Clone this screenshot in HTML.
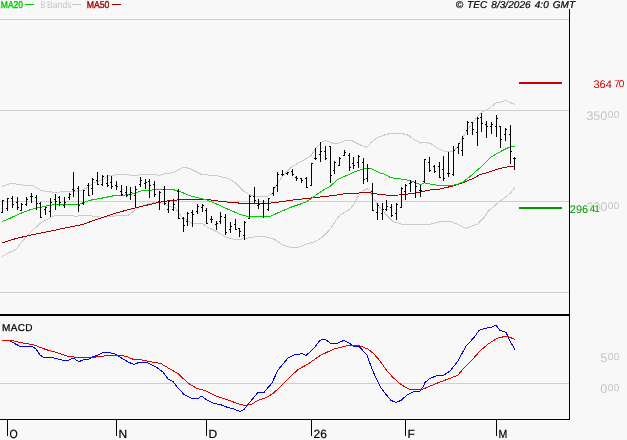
<!DOCTYPE html>
<html><head><meta charset="utf-8"><title>Chart</title>
<style>html,body{margin:0;padding:0;background:#f8f8f8;overflow:hidden}svg{display:block}</style>
</head><body>
<svg width="627" height="440" viewBox="0 0 627 440">
<rect x="0" y="0" width="627" height="440" fill="#f8f8f8"/>
<g shape-rendering="crispEdges">
<rect x="0" y="19" width="569" height="1" fill="#cfcfcf"/>
<rect x="0" y="110" width="569" height="1" fill="#cfcfcf"/>
<rect x="0" y="201" width="569" height="1" fill="#cfcfcf"/>
<rect x="0" y="292" width="569" height="1" fill="#cfcfcf"/>
<rect x="0" y="383" width="569" height="1" fill="#cfcfcf"/>
</g>
<polyline fill="none" shape-rendering="crispEdges" stroke="#cbcbcb" stroke-width="1" points="2.0,186.5 11.6,183.2 21.6,184.9 33.2,185.7 41.5,190.7 54.7,192.3 69.7,191.5 78.0,191.5 86.2,188.2 92.9,183.2 104.0,179.0 107.8,175.7 117.8,174.7 135.3,175.2 150.0,174.5 160.0,175.2 166.6,173.2 173.2,172.9 178.2,169.9 184.0,167.1 189.8,168.6 201.4,174.5 216.3,175.7 227.9,178.2 234.6,182.3 242.9,190.6 249.5,194.8 257.8,196.6 267.4,196.6 272.2,193.5 276.8,184.4 283.6,174.8 291.8,166.6 304.1,159.8 310.9,155.7 316.4,147.5 321.8,142.1 325.9,140.7 334.0,143.5 338.2,143.5 345.0,140.7 351.8,140.7 360.0,144.8 366.8,147.5 371.5,142.1 376.9,138.0 383.7,135.2 390.6,133.5 401.5,133.5 408.3,135.2 413.7,139.3 420.6,143.0 425.5,142.3 430.9,143.6 437.7,148.4 444.6,151.1 452.7,151.6 456.8,147.7 460.9,140.9 466.4,131.4 469.6,126.9 476.9,117.5 481.3,112.4 489.7,108.3 496.3,102.5 501.3,102.0 505.5,100.3 510.4,102.5 514.9,104.6"/>
<polyline fill="none" shape-rendering="crispEdges" stroke="#cbcbcb" stroke-width="1" points="2.0,256.7 8.3,252.7 12.4,251.4 16.6,248.4 24.9,238.4 33.2,229.8 41.5,222.4 49.8,218.2 55.6,215.2 66.3,215.2 76.3,216.2 86.2,215.2 96.2,216.6 104.0,217.4 112.0,216.5 120.0,215.3 128.2,215.3 134.3,210.7 140.4,206.7 150.6,203.1 160.8,202.6 164.9,204.6 171.0,206.7 175.1,207.7 179.2,213.8 183.2,218.0 189.8,222.1 192.3,223.5 202.5,223.5 206.6,226.7 216.8,231.6 225.0,236.7 236.0,240.0 244.2,238.6 256.5,236.5 263.3,236.5 272.8,238.6 276.0,240.2 282.0,244.7 289.5,247.3 298.5,247.3 306.0,244.3 315.0,241.7 322.5,237.2 328.5,231.2 333.0,225.2 336.0,220.0 340.5,214.7 349.5,209.5 354.0,204.2 357.0,197.5 362.7,191.2 366.8,188.5 369.6,190.5 372.8,197.5 379.6,207.0 386.5,215.2 393.3,221.8 403.2,224.5 418.1,224.5 431.4,224.0 441.4,221.2 449.7,221.2 457.9,224.5 466.2,228.5 472.9,225.7 477.8,224.0 484.0,217.4 488.0,211.4 493.0,207.2 499.7,201.4 506.3,196.4 511.3,192.3 514.9,187.3"/>
<polyline fill="none" shape-rendering="crispEdges" stroke="#990000" stroke-width="1" points="2.0,242.8 16.6,238.4 33.2,234.5 49.8,231.2 66.3,227.8 82.9,224.5 92.9,220.7 100.0,218.4 116.6,212.8 133.2,208.5 150.0,204.4 163.3,201.4 183.2,199.4 206.4,199.4 223.0,201.7 239.6,203.1 254.0,203.1 270.1,203.1 281.0,201.7 291.0,200.2 309.0,198.2 336.0,195.2 343.6,193.9 357.3,193.1 366.8,192.5 371.5,193.1 379.6,194.5 390.6,195.4 398.7,195.0 406.9,194.1 413.8,193.4 423.3,191.3 430.0,190.0 437.7,189.6 447.3,187.3 455.5,185.3 463.7,182.5 474.6,177.7 480.0,174.6 484.0,173.6 490.0,171.7 497.3,169.1 504.5,167.3 514.7,166.2"/>
<polyline fill="none" shape-rendering="crispEdges" stroke="#00cc00" stroke-width="1" points="2.0,221.5 10.0,218.2 19.9,213.6 29.9,209.9 39.8,207.4 49.8,205.3 58.0,204.1 69.7,204.1 79.6,204.1 86.2,201.6 92.9,199.6 100.0,198.5 116.6,195.2 129.9,194.9 141.5,190.7 150.0,190.1 163.3,189.5 176.5,190.1 189.8,195.6 206.4,199.8 216.3,203.9 232.9,211.4 242.8,215.4 249.6,216.7 270.1,216.5 276.9,213.3 291.0,207.2 300.0,204.2 306.0,202.0 312.0,198.2 318.0,193.7 324.6,189.2 330.0,186.4 336.8,180.3 343.6,176.9 357.3,170.7 364.1,168.7 368.9,168.0 373.7,169.7 379.6,172.9 384.6,174.2 390.6,177.7 401.5,179.1 409.7,180.4 416.5,183.1 420.6,184.5 424.1,182.9 433.6,184.6 441.8,185.9 451.4,185.9 458.2,183.9 463.7,181.6 471.8,175.0 478.7,168.9 484.2,164.0 491.5,156.7 501.6,150.9 508.9,147.3 514.7,146.1"/>
<g shape-rendering="crispEdges" fill="#000">
<rect x="2" y="200" width="1" height="13"/>
<rect x="1" y="212" width="1" height="1"/>
<rect x="3" y="200" width="1" height="1"/>
<rect x="7" y="198" width="1" height="13"/>
<rect x="6" y="208" width="1" height="1"/>
<rect x="8" y="198" width="1" height="1"/>
<rect x="12" y="196" width="1" height="12"/>
<rect x="11" y="198" width="1" height="1"/>
<rect x="13" y="204" width="1" height="1"/>
<rect x="17" y="197" width="1" height="13"/>
<rect x="16" y="202" width="1" height="1"/>
<rect x="18" y="207" width="1" height="1"/>
<rect x="21" y="203" width="1" height="8"/>
<rect x="20" y="210" width="1" height="1"/>
<rect x="22" y="204" width="1" height="1"/>
<rect x="26" y="197" width="1" height="9"/>
<rect x="25" y="204" width="1" height="1"/>
<rect x="27" y="199" width="1" height="1"/>
<rect x="31" y="193" width="1" height="10"/>
<rect x="30" y="196" width="1" height="1"/>
<rect x="32" y="196" width="1" height="1"/>
<rect x="36" y="195" width="1" height="15"/>
<rect x="35" y="197" width="1" height="1"/>
<rect x="37" y="203" width="1" height="1"/>
<rect x="40" y="202" width="1" height="16"/>
<rect x="39" y="203" width="1" height="1"/>
<rect x="41" y="217" width="1" height="1"/>
<rect x="45" y="207" width="1" height="8"/>
<rect x="44" y="209" width="1" height="1"/>
<rect x="46" y="207" width="1" height="1"/>
<rect x="50" y="198" width="1" height="19"/>
<rect x="49" y="211" width="1" height="1"/>
<rect x="51" y="202" width="1" height="1"/>
<rect x="55" y="194" width="1" height="16"/>
<rect x="54" y="199" width="1" height="1"/>
<rect x="56" y="201" width="1" height="1"/>
<rect x="59" y="196" width="1" height="10"/>
<rect x="58" y="197" width="1" height="1"/>
<rect x="60" y="202" width="1" height="1"/>
<rect x="64" y="197" width="1" height="11"/>
<rect x="63" y="205" width="1" height="1"/>
<rect x="65" y="202" width="1" height="1"/>
<rect x="69" y="193" width="1" height="7"/>
<rect x="68" y="197" width="1" height="1"/>
<rect x="70" y="194" width="1" height="1"/>
<rect x="73" y="172" width="1" height="25"/>
<rect x="72" y="189" width="1" height="1"/>
<rect x="74" y="190" width="1" height="1"/>
<rect x="78" y="186" width="1" height="26"/>
<rect x="77" y="188" width="1" height="1"/>
<rect x="79" y="205" width="1" height="1"/>
<rect x="83" y="190" width="1" height="15"/>
<rect x="82" y="203" width="1" height="1"/>
<rect x="84" y="190" width="1" height="1"/>
<rect x="88" y="183" width="1" height="13"/>
<rect x="87" y="185" width="1" height="1"/>
<rect x="89" y="195" width="1" height="1"/>
<rect x="92" y="178" width="1" height="17"/>
<rect x="91" y="188" width="1" height="1"/>
<rect x="93" y="179" width="1" height="1"/>
<rect x="97" y="172" width="1" height="13"/>
<rect x="96" y="180" width="1" height="1"/>
<rect x="98" y="184" width="1" height="1"/>
<rect x="102" y="175" width="1" height="11"/>
<rect x="101" y="184" width="1" height="1"/>
<rect x="103" y="176" width="1" height="1"/>
<rect x="107" y="175" width="1" height="12"/>
<rect x="106" y="183" width="1" height="1"/>
<rect x="108" y="185" width="1" height="1"/>
<rect x="111" y="176" width="1" height="13"/>
<rect x="110" y="182" width="1" height="1"/>
<rect x="112" y="186" width="1" height="1"/>
<rect x="116" y="181" width="1" height="9"/>
<rect x="115" y="185" width="1" height="1"/>
<rect x="117" y="186" width="1" height="1"/>
<rect x="121" y="185" width="1" height="11"/>
<rect x="120" y="191" width="1" height="1"/>
<rect x="122" y="194" width="1" height="1"/>
<rect x="126" y="186" width="1" height="11"/>
<rect x="125" y="192" width="1" height="1"/>
<rect x="127" y="195" width="1" height="1"/>
<rect x="130" y="187" width="1" height="13"/>
<rect x="129" y="194" width="1" height="1"/>
<rect x="131" y="192" width="1" height="1"/>
<rect x="135" y="186" width="1" height="21"/>
<rect x="134" y="195" width="1" height="1"/>
<rect x="136" y="189" width="1" height="1"/>
<rect x="140" y="177" width="1" height="10"/>
<rect x="139" y="184" width="1" height="1"/>
<rect x="141" y="180" width="1" height="1"/>
<rect x="145" y="179" width="1" height="10"/>
<rect x="144" y="183" width="1" height="1"/>
<rect x="146" y="182" width="1" height="1"/>
<rect x="149" y="179" width="1" height="19"/>
<rect x="148" y="181" width="1" height="1"/>
<rect x="150" y="185" width="1" height="1"/>
<rect x="154" y="181" width="1" height="16"/>
<rect x="153" y="184" width="1" height="1"/>
<rect x="155" y="194" width="1" height="1"/>
<rect x="159" y="191" width="1" height="19"/>
<rect x="158" y="201" width="1" height="1"/>
<rect x="160" y="192" width="1" height="1"/>
<rect x="164" y="186" width="1" height="19"/>
<rect x="163" y="189" width="1" height="1"/>
<rect x="165" y="203" width="1" height="1"/>
<rect x="168" y="201" width="1" height="12"/>
<rect x="167" y="209" width="1" height="1"/>
<rect x="169" y="201" width="1" height="1"/>
<rect x="173" y="199" width="1" height="12"/>
<rect x="172" y="209" width="1" height="1"/>
<rect x="174" y="204" width="1" height="1"/>
<rect x="178" y="189" width="1" height="30"/>
<rect x="177" y="191" width="1" height="1"/>
<rect x="179" y="218" width="1" height="1"/>
<rect x="183" y="217" width="1" height="15"/>
<rect x="182" y="218" width="1" height="1"/>
<rect x="184" y="225" width="1" height="1"/>
<rect x="187" y="212" width="1" height="14"/>
<rect x="186" y="221" width="1" height="1"/>
<rect x="188" y="213" width="1" height="1"/>
<rect x="192" y="210" width="1" height="17"/>
<rect x="191" y="212" width="1" height="1"/>
<rect x="193" y="214" width="1" height="1"/>
<rect x="197" y="204" width="1" height="10"/>
<rect x="196" y="211" width="1" height="1"/>
<rect x="198" y="206" width="1" height="1"/>
<rect x="202" y="204" width="1" height="8"/>
<rect x="201" y="207" width="1" height="1"/>
<rect x="203" y="205" width="1" height="1"/>
<rect x="206" y="208" width="1" height="16"/>
<rect x="205" y="210" width="1" height="1"/>
<rect x="207" y="223" width="1" height="1"/>
<rect x="211" y="216" width="1" height="7"/>
<rect x="210" y="219" width="1" height="1"/>
<rect x="212" y="219" width="1" height="1"/>
<rect x="216" y="221" width="1" height="9"/>
<rect x="215" y="224" width="1" height="1"/>
<rect x="217" y="223" width="1" height="1"/>
<rect x="220" y="212" width="1" height="12"/>
<rect x="219" y="221" width="1" height="1"/>
<rect x="221" y="216" width="1" height="1"/>
<rect x="225" y="214" width="1" height="21"/>
<rect x="224" y="217" width="1" height="1"/>
<rect x="226" y="232" width="1" height="1"/>
<rect x="230" y="222" width="1" height="11"/>
<rect x="229" y="229" width="1" height="1"/>
<rect x="231" y="226" width="1" height="1"/>
<rect x="235" y="219" width="1" height="11"/>
<rect x="234" y="224" width="1" height="1"/>
<rect x="236" y="229" width="1" height="1"/>
<rect x="239" y="228" width="1" height="9"/>
<rect x="238" y="228" width="1" height="1"/>
<rect x="240" y="231" width="1" height="1"/>
<rect x="244" y="221" width="1" height="19"/>
<rect x="243" y="235" width="1" height="1"/>
<rect x="245" y="222" width="1" height="1"/>
<rect x="249" y="195" width="1" height="24"/>
<rect x="248" y="218" width="1" height="1"/>
<rect x="250" y="196" width="1" height="1"/>
<rect x="254" y="187" width="1" height="16"/>
<rect x="253" y="196" width="1" height="1"/>
<rect x="255" y="200" width="1" height="1"/>
<rect x="258" y="199" width="1" height="10"/>
<rect x="257" y="205" width="1" height="1"/>
<rect x="259" y="204" width="1" height="1"/>
<rect x="263" y="200" width="1" height="18"/>
<rect x="262" y="203" width="1" height="1"/>
<rect x="264" y="203" width="1" height="1"/>
<rect x="268" y="198" width="1" height="13"/>
<rect x="267" y="209" width="1" height="1"/>
<rect x="269" y="198" width="1" height="1"/>
<rect x="273" y="187" width="1" height="9"/>
<rect x="272" y="193" width="1" height="1"/>
<rect x="274" y="187" width="1" height="1"/>
<rect x="277" y="172" width="1" height="20"/>
<rect x="276" y="185" width="1" height="1"/>
<rect x="278" y="174" width="1" height="1"/>
<rect x="282" y="170" width="1" height="6"/>
<rect x="281" y="174" width="1" height="1"/>
<rect x="283" y="174" width="1" height="1"/>
<rect x="287" y="172" width="1" height="3"/>
<rect x="286" y="173" width="1" height="1"/>
<rect x="288" y="172" width="1" height="1"/>
<rect x="292" y="169" width="1" height="7"/>
<rect x="291" y="171" width="1" height="1"/>
<rect x="293" y="174" width="1" height="1"/>
<rect x="296" y="176" width="1" height="5"/>
<rect x="295" y="177" width="1" height="1"/>
<rect x="297" y="178" width="1" height="1"/>
<rect x="301" y="178" width="1" height="5"/>
<rect x="300" y="178" width="1" height="1"/>
<rect x="302" y="180" width="1" height="1"/>
<rect x="306" y="177" width="1" height="11"/>
<rect x="305" y="178" width="1" height="1"/>
<rect x="307" y="187" width="1" height="1"/>
<rect x="311" y="163" width="1" height="23"/>
<rect x="310" y="185" width="1" height="1"/>
<rect x="312" y="163" width="1" height="1"/>
<rect x="315" y="148" width="1" height="12"/>
<rect x="314" y="158" width="1" height="1"/>
<rect x="316" y="158" width="1" height="1"/>
<rect x="320" y="142" width="1" height="20"/>
<rect x="319" y="154" width="1" height="1"/>
<rect x="321" y="151" width="1" height="1"/>
<rect x="325" y="146" width="1" height="14"/>
<rect x="324" y="151" width="1" height="1"/>
<rect x="326" y="158" width="1" height="1"/>
<rect x="330" y="146" width="1" height="37"/>
<rect x="329" y="146" width="1" height="1"/>
<rect x="331" y="175" width="1" height="1"/>
<rect x="334" y="161" width="1" height="13"/>
<rect x="333" y="170" width="1" height="1"/>
<rect x="335" y="162" width="1" height="1"/>
<rect x="339" y="157" width="1" height="9"/>
<rect x="338" y="165" width="1" height="1"/>
<rect x="340" y="158" width="1" height="1"/>
<rect x="344" y="150" width="1" height="6"/>
<rect x="343" y="155" width="1" height="1"/>
<rect x="345" y="152" width="1" height="1"/>
<rect x="349" y="153" width="1" height="18"/>
<rect x="348" y="155" width="1" height="1"/>
<rect x="350" y="167" width="1" height="1"/>
<rect x="353" y="157" width="1" height="12"/>
<rect x="352" y="163" width="1" height="1"/>
<rect x="354" y="165" width="1" height="1"/>
<rect x="358" y="155" width="1" height="13"/>
<rect x="357" y="162" width="1" height="1"/>
<rect x="359" y="156" width="1" height="1"/>
<rect x="363" y="158" width="1" height="26"/>
<rect x="362" y="162" width="1" height="1"/>
<rect x="364" y="179" width="1" height="1"/>
<rect x="367" y="164" width="1" height="18"/>
<rect x="366" y="178" width="1" height="1"/>
<rect x="368" y="168" width="1" height="1"/>
<rect x="372" y="183" width="1" height="28"/>
<rect x="371" y="191" width="1" height="1"/>
<rect x="373" y="210" width="1" height="1"/>
<rect x="377" y="203" width="1" height="17"/>
<rect x="376" y="212" width="1" height="1"/>
<rect x="378" y="205" width="1" height="1"/>
<rect x="382" y="203" width="1" height="17"/>
<rect x="381" y="213" width="1" height="1"/>
<rect x="383" y="209" width="1" height="1"/>
<rect x="386" y="200" width="1" height="11"/>
<rect x="385" y="209" width="1" height="1"/>
<rect x="387" y="206" width="1" height="1"/>
<rect x="391" y="204" width="1" height="13"/>
<rect x="390" y="207" width="1" height="1"/>
<rect x="392" y="215" width="1" height="1"/>
<rect x="396" y="203" width="1" height="17"/>
<rect x="395" y="213" width="1" height="1"/>
<rect x="397" y="204" width="1" height="1"/>
<rect x="401" y="187" width="1" height="21"/>
<rect x="400" y="207" width="1" height="1"/>
<rect x="402" y="188" width="1" height="1"/>
<rect x="405" y="184" width="1" height="16"/>
<rect x="404" y="191" width="1" height="1"/>
<rect x="406" y="185" width="1" height="1"/>
<rect x="410" y="180" width="1" height="12"/>
<rect x="409" y="183" width="1" height="1"/>
<rect x="411" y="182" width="1" height="1"/>
<rect x="415" y="180" width="1" height="18"/>
<rect x="414" y="182" width="1" height="1"/>
<rect x="416" y="186" width="1" height="1"/>
<rect x="420" y="185" width="1" height="12"/>
<rect x="419" y="190" width="1" height="1"/>
<rect x="421" y="190" width="1" height="1"/>
<rect x="424" y="159" width="1" height="24"/>
<rect x="423" y="181" width="1" height="1"/>
<rect x="425" y="159" width="1" height="1"/>
<rect x="429" y="157" width="1" height="15"/>
<rect x="428" y="162" width="1" height="1"/>
<rect x="430" y="170" width="1" height="1"/>
<rect x="434" y="165" width="1" height="8"/>
<rect x="433" y="166" width="1" height="1"/>
<rect x="435" y="171" width="1" height="1"/>
<rect x="439" y="162" width="1" height="16"/>
<rect x="438" y="166" width="1" height="1"/>
<rect x="440" y="177" width="1" height="1"/>
<rect x="443" y="156" width="1" height="25"/>
<rect x="442" y="169" width="1" height="1"/>
<rect x="444" y="178" width="1" height="1"/>
<rect x="448" y="152" width="1" height="25"/>
<rect x="447" y="173" width="1" height="1"/>
<rect x="449" y="173" width="1" height="1"/>
<rect x="453" y="146" width="1" height="30"/>
<rect x="452" y="174" width="1" height="1"/>
<rect x="454" y="150" width="1" height="1"/>
<rect x="458" y="143" width="1" height="11"/>
<rect x="457" y="147" width="1" height="1"/>
<rect x="459" y="143" width="1" height="1"/>
<rect x="462" y="136" width="1" height="20"/>
<rect x="461" y="150" width="1" height="1"/>
<rect x="463" y="138" width="1" height="1"/>
<rect x="467" y="121" width="1" height="14"/>
<rect x="466" y="130" width="1" height="1"/>
<rect x="468" y="122" width="1" height="1"/>
<rect x="472" y="122" width="1" height="13"/>
<rect x="471" y="122" width="1" height="1"/>
<rect x="473" y="129" width="1" height="1"/>
<rect x="477" y="117" width="1" height="29"/>
<rect x="476" y="132" width="1" height="1"/>
<rect x="478" y="118" width="1" height="1"/>
<rect x="481" y="113" width="1" height="19"/>
<rect x="480" y="117" width="1" height="1"/>
<rect x="482" y="123" width="1" height="1"/>
<rect x="486" y="121" width="1" height="17"/>
<rect x="485" y="124" width="1" height="1"/>
<rect x="487" y="126" width="1" height="1"/>
<rect x="491" y="122" width="1" height="12"/>
<rect x="490" y="126" width="1" height="1"/>
<rect x="492" y="124" width="1" height="1"/>
<rect x="496" y="115" width="1" height="22"/>
<rect x="495" y="126" width="1" height="1"/>
<rect x="497" y="118" width="1" height="1"/>
<rect x="500" y="126" width="1" height="22"/>
<rect x="499" y="126" width="1" height="1"/>
<rect x="501" y="139" width="1" height="1"/>
<rect x="505" y="128" width="1" height="13"/>
<rect x="504" y="134" width="1" height="1"/>
<rect x="506" y="129" width="1" height="1"/>
<rect x="510" y="125" width="1" height="39"/>
<rect x="509" y="134" width="1" height="1"/>
<rect x="511" y="151" width="1" height="1"/>
<rect x="514" y="157" width="1" height="13"/>
<rect x="513" y="158" width="1" height="1"/>
<rect x="515" y="158" width="1" height="1"/>
</g>
<polyline fill="none" shape-rendering="crispEdges" stroke="#0000dd" stroke-width="1" points="2.0,340.4 10.0,341.0 20.0,346.4 32.0,346.4 36.0,349.0 40.0,355.0 44.0,357.6 52.0,357.6 58.0,359.0 64.0,360.4 69.0,360.0 73.0,358.0 79.0,361.6 84.0,359.6 88.0,360.0 92.0,357.0 98.0,355.0 103.0,352.4 108.0,352.4 114.0,353.6 120.0,357.0 128.0,362.0 134.0,364.4 140.0,362.0 148.0,363.0 156.0,367.0 163.0,372.0 168.0,379.0 173.0,381.6 178.0,388.0 184.0,394.4 192.0,398.4 198.0,398.4 202.0,396.0 206.0,399.6 214.0,403.6 220.0,404.4 228.0,407.6 234.0,409.0 240.0,411.6 244.0,409.6 250.0,402.0 258.0,392.4 264.0,392.4 272.0,383.0 278.0,370.0 288.0,358.0 294.0,355.0 302.0,353.6 306.0,355.6 314.0,348.0 320.0,340.4 325.0,339.0 331.0,343.6 338.0,343.0 344.0,340.4 349.0,343.0 354.0,346.4 359.0,346.4 367.0,355.0 372.0,369.0 376.0,378.0 381.0,388.0 386.0,394.4 391.0,400.4 396.0,402.4 401.0,400.4 407.0,395.0 414.0,391.6 420.0,391.0 423.0,387.0 425.0,382.4 430.0,378.4 437.0,375.6 444.0,375.0 450.0,371.0 458.0,361.0 466.0,346.0 474.0,337.6 479.0,330.4 485.0,328.4 492.0,327.0 496.0,325.0 500.0,330.4 506.0,332.4 510.0,341.0 515.0,349.6"/>
<polyline fill="none" shape-rendering="crispEdges" stroke="#dd0000" stroke-width="1" points="2.0,340.4 12.0,340.4 20.0,342.4 34.0,345.0 46.0,349.6 56.0,352.4 68.0,356.4 80.0,357.6 88.0,358.0 100.0,356.4 108.0,355.6 116.0,355.0 120.0,355.0 128.0,357.0 134.0,359.6 142.0,360.0 152.0,362.0 161.0,363.6 170.0,369.0 178.0,373.6 188.0,383.0 196.0,388.0 206.0,391.0 216.0,396.0 228.0,400.0 240.0,404.4 246.0,405.6 252.0,404.0 258.0,400.4 266.0,397.6 273.0,393.6 282.0,385.0 290.0,377.0 298.0,369.6 308.0,364.0 320.0,355.6 334.0,349.0 344.0,346.4 352.0,345.0 359.0,345.6 368.0,349.0 374.0,354.0 380.0,361.0 386.0,369.6 392.0,376.4 399.0,383.0 404.0,386.4 410.0,389.4 422.0,389.4 428.0,387.0 440.0,382.0 450.0,378.4 458.0,375.0 464.0,368.0 472.0,360.0 480.0,351.0 488.0,344.0 498.0,338.0 507.0,336.0 515.0,339.6"/>
<g shape-rendering="crispEdges" fill="#000">
<rect x="569" y="9" width="1" height="411" fill="#000"/>
<rect x="0" y="314" width="570" height="2" fill="#000"/>
<rect x="0" y="419" width="570" height="1" fill="#000"/>
<rect x="7" y="419" width="1" height="17" fill="#000"/>
<rect x="116" y="419" width="1" height="17" fill="#000"/>
<rect x="206" y="419" width="1" height="17" fill="#000"/>
<rect x="311" y="419" width="1" height="17" fill="#000"/>
<rect x="405" y="419" width="1" height="17" fill="#000"/>
<rect x="496" y="419" width="1" height="17" fill="#000"/>
<rect x="519" y="82" width="43" height="2" fill="#cc0000"/>
<rect x="519" y="207" width="43" height="2" fill="#009900"/>
<rect x="25" y="4" width="9" height="1" fill="#00cc00"/>
<rect x="72" y="4" width="9" height="1" fill="#c4c4c4"/>
<rect x="112" y="4" width="9" height="1" fill="#990000"/>
</g>
<g font-family="Liberation Sans, Arial, sans-serif" text-rendering="geometricPrecision">
<text x="0.8" y="8" font-size="10" fill="#00cc00" stroke="#00cc00" stroke-width="0.4" textLength="22.3" lengthAdjust="spacingAndGlyphs">MA20</text>
<text x="40.6" y="8" font-size="10" fill="#c4c4c4" textLength="4.8" lengthAdjust="spacingAndGlyphs">B</text><text x="47.1" y="8" font-size="10" fill="#c4c4c4" textLength="24.4" lengthAdjust="spacingAndGlyphs">Bands</text>
<text x="86.8" y="8" font-size="10" fill="#990000" stroke="#990000" stroke-width="0.4" textLength="22.6" lengthAdjust="spacingAndGlyphs">MA50</text>
<text x="575.2" y="8" font-size="10" font-style="italic" fill="#000" stroke="#000" stroke-width="0.2" text-anchor="end" word-spacing="1.1" letter-spacing="0.07">© TEC 8/3/2026 4:0 GMT</text>
<text x="2.1" y="331" font-size="10" fill="#000" stroke="#000" stroke-width="0.25" letter-spacing="0.35">MACD</text>
<text x="9.6" y="438" font-size="12" fill="#000" stroke="#000" stroke-width="0.2" textLength="8.2" lengthAdjust="spacingAndGlyphs">O</text>
<text x="118.6" y="438" font-size="12" fill="#000" stroke="#000" stroke-width="0.2">N</text>
<text x="208.6" y="438" font-size="12" fill="#000" stroke="#000" stroke-width="0.2">D</text>
<text x="313.6" y="438" font-size="12" fill="#000" stroke="#000" stroke-width="0.2">26</text>
<text x="407.6" y="438" font-size="12" fill="#000" stroke="#000" stroke-width="0.2">F</text>
<text x="498.6" y="438" font-size="12" fill="#000" stroke="#000" stroke-width="0.2" textLength="8.8" lengthAdjust="spacingAndGlyphs">M</text>
<text x="586.4" y="120" font-size="12.5" fill="#c4c4c4">350</text><text x="607.7" y="118" font-size="10" fill="#c4c4c4" letter-spacing="0.6" text-rendering="geometricPrecision">00</text>
<text x="586.4" y="211" font-size="12.5" fill="#c4c4c4">300</text><text x="607.7" y="209" font-size="10" fill="#c4c4c4" letter-spacing="0.6" text-rendering="geometricPrecision">00</text>
<text x="600.3" y="362" font-size="12.5" fill="#c4c4c4">5</text><text x="607.7" y="360" font-size="10" fill="#c4c4c4" letter-spacing="0.6" text-rendering="geometricPrecision">00</text>
<text x="600.3" y="393" font-size="12.5" fill="#c4c4c4">0</text><text x="607.7" y="391" font-size="10" fill="#c4c4c4" letter-spacing="0.6" text-rendering="geometricPrecision">00</text>
<text x="593.5" y="88" font-size="11" fill="#cc0000">364</text><text x="614.2" y="87" font-size="10" fill="#cc0000" letter-spacing="-0.9" text-rendering="geometricPrecision">70</text>
<g stroke="#f8f8f8" stroke-width="1.8" stroke-linejoin="round"><text x="569.8" y="213" font-size="11" fill="#f8f8f8">296</text><text x="589.8" y="212" font-size="10" fill="#f8f8f8" letter-spacing="-1.0" text-rendering="geometricPrecision">41</text></g>
<rect x="569" y="198" width="1" height="22" fill="#000" shape-rendering="crispEdges"/>
<text x="569.8" y="213" font-size="11" fill="#009900">296</text><text x="589.8" y="212" font-size="10" fill="#009900" letter-spacing="-1.0" text-rendering="geometricPrecision">41</text>
</g>
</svg>
</body></html>
